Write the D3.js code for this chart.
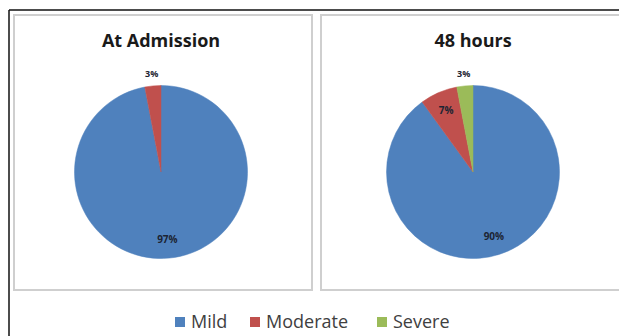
<!DOCTYPE html>
<html>
<head>
<meta charset="utf-8">
<script src="https://cdn.jsdelivr.net/npm/d3@7"></script>
<style>
  html, body { margin: 0; padding: 0; background: #fff; }
  svg { display: block; }
</style>
</head>
<body>
<script>
// Severity categories and their share (%) at each time point
const categories = ["Mild", "Moderate", "Severe"];
const admissionValues = [97, 3, 0];
const hours48Values = [90, 7, 3];
const panelTitles = ["At Admission", "48 hours"];
const colors = ["#4F81BD", "#C0504D", "#9BBB59"];

const W = 619, H = 336;
const svg = d3.select("body").append("svg")
  .attr("width", W).attr("height", H);

// outer frame (top and left edges visible)
svg.append("line").attr("x1", 9).attr("x2", W).attr("y1", 10).attr("y2", 10)
  .attr("stroke", "#111").attr("stroke-width", 1.5);
svg.append("line").attr("x1", 9).attr("x2", 9).attr("y1", 10).attr("y2", H)
  .attr("stroke", "#111").attr("stroke-width", 1.5);

const color = d3.scaleOrdinal().domain(categories).range(colors);

const panels = [
  { title: panelTitles[0], values: admissionValues, x0: 14, x1: 312, cx: 161 },
  { title: panelTitles[1], values: hours48Values, x0: 321, x1: 630, cx: 473 }
];

const panelTop = 15, panelBottom = 290;
const cy = 172, radius = 86.5;

const pie = d3.pie().sort(null).value(d => d.value);
const arc = d3.arc().innerRadius(0).outerRadius(radius);
const innerLabelArc = d3.arc().innerRadius(radius * 0.78).outerRadius(radius * 0.78);
const outerLabelArc = d3.arc().innerRadius(radius + 12).outerRadius(radius + 12);

panels.forEach(p => {
  const g = svg.append("g");

  g.append("rect")
    .attr("x", p.x0).attr("y", panelTop)
    .attr("width", p.x1 - p.x0).attr("height", panelBottom - panelTop)
    .attr("fill", "#fff")
    .attr("stroke", "#cfcfcf").attr("stroke-width", 2);

  g.append("text")
    .attr("x", p.cx).attr("y", 47)
    .attr("text-anchor", "middle")
    .attr("font-family", "'Open Sans', sans-serif")
    .attr("font-weight", "bold")
    .attr("font-size", 18)
    .attr("fill", "#1a1a1a")
    .text(p.title);

  const rows = categories.map((c, i) => ({ category: c, value: p.values[i] }))
    .filter(d => d.value > 0);
  const arcs = pie(rows);

  const pg = g.append("g").attr("transform", `translate(${p.cx},${cy})`);

  pg.selectAll("path").data(arcs).join("path")
    .attr("d", arc)
    .attr("fill", d => color(d.data.category))
    .attr("stroke", d => color(d.data.category))
    .attr("stroke-width", 0.5);

  pg.selectAll("text").data(arcs).join("text")
    .attr("transform", d => {
      const c = (d.data.value <= 3 ? outerLabelArc : innerLabelArc).centroid(d);
      return `translate(${c[0]},${c[1]})`;
    })
    .attr("text-anchor", "middle")
    .attr("dy", "0.35em")
    .attr("font-family", "'Open Sans', sans-serif")
    .attr("font-weight", "bold")
    .attr("font-size", d => d.data.value <= 3 ? 9 : 10)
    .attr("fill", "#1c2433")
    .text(d => d.data.value + "%");
});

// legend
const legendItems = [
  { category: categories[0], x: 175 },
  { category: categories[1], x: 250 },
  { category: categories[2], x: 377 }
];
const lg = svg.append("g");
const items = lg.selectAll("g").data(legendItems).join("g")
  .attr("transform", d => `translate(${d.x},317)`);
items.append("rect")
  .attr("width", 10).attr("height", 10)
  .attr("fill", d => color(d.category));
items.append("text")
  .attr("x", 16).attr("y", 5).attr("dy", "0.36em")
  .attr("font-family", "'Open Sans', sans-serif")
  .attr("font-size", 18)
  .attr("fill", "#404040")
  .text(d => d.category);
</script>
</body>
</html>
